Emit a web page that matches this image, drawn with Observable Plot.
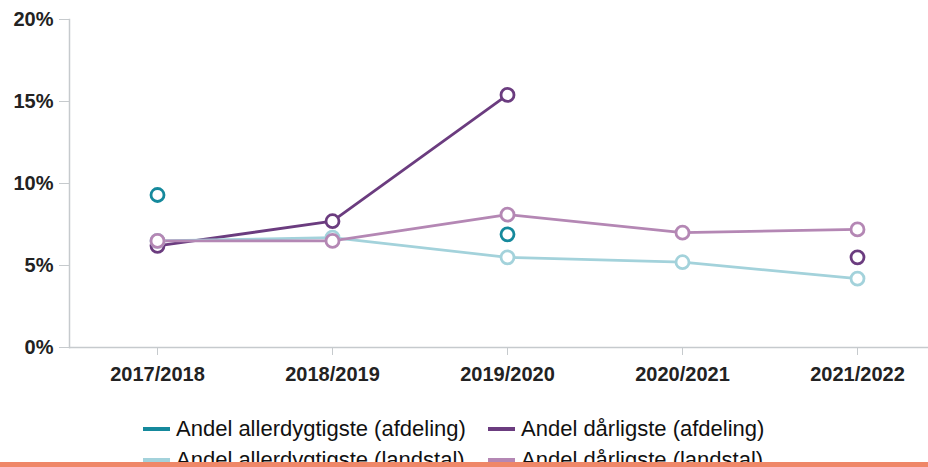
<!DOCTYPE html>
<html>
<head>
<meta charset="utf-8">
<script src="https://cdn.jsdelivr.net/npm/d3@7"></script>
<script src="https://cdn.jsdelivr.net/npm/@observablehq/plot@0.6"></script>
<style>
  html, body { margin: 0; padding: 0; background: #fff; }
  body { width: 928px; height: 467px; overflow: hidden; position: relative;
         font-family: "Liberation Sans", Arial, sans-serif; }
  #chart svg { display: block; }
  #legend { display: grid; grid-template-columns: 345px 345px; margin-left: 143px; margin-top: 13px; }
  .item { display: flex; align-items: center; font-size: 22px; line-height: 31px; color: #111; white-space: nowrap; }
  .sw { width: 27px; height: 4px; margin-right: 6px; flex: none; }
  #bar { position: absolute; left: 0; right: 0; bottom: 0; height: 5px; background: #ef8768; }
</style>
</head>
<body>
<div id="chart"></div>
<div id="legend"></div>
<div id="bar"></div>
<script>
// Data
const seasons = ["2017/2018", "2018/2019", "2019/2020", "2020/2021", "2021/2022"];
const seriesNames = [
  "Andel allerdygtigste (afdeling)",
  "Andel dårligste (afdeling)",
  "Andel allerdygtigste (landstal)",
  "Andel dårligste (landstal)"
];
const allerdygtigsteAfdeling = [9.3, null, 6.9, null, null];
const daarligsteAfdeling     = [6.2, 7.7, 15.4, null, 5.5];
const allerdygtigsteLandstal = [6.5, 6.7, 5.5, 5.2, 4.2];
const daarligsteLandstal     = [6.5, 6.5, 8.1, 7.0, 7.2];
const yTicks = [0, 5, 10, 15, 20];
const seriesColors = ["#15899c", "#6b3c7f", "#a3d2db", "#b487b4"];

const seriesValues = [allerdygtigsteAfdeling, daarligsteAfdeling, allerdygtigsteLandstal, daarligsteLandstal];
const rows = [];
seriesNames.forEach((name, i) => {
  seasons.forEach((s, j) => rows.push({ season: s, series: name, value: seriesValues[i][j] }));
});

const grey = "#c6cacd";
const chart = Plot.plot({
  width: 928,
  height: 400,
  marginLeft: 69,
  marginRight: 0,
  marginTop: 19,
  marginBottom: 53,
  style: { fontFamily: "'Liberation Sans', Arial, sans-serif", background: "#fff", overflow: "visible" },
  x: { type: "point", domain: seasons, range: [157, 857], padding: 0, label: null },
  y: { domain: [0, 20], label: null },
  color: { domain: seriesNames, range: seriesColors },
  marks: [
    Plot.ruleY([0], { stroke: grey, strokeWidth: 1.5 }),
    Plot.frame({ anchor: "left", stroke: grey, strokeWidth: 1.5 }),
    Plot.axisY({ ticks: yTicks, tickSize: 10, tickPadding: 6, tickFormat: d => d + "%", label: null,
                 stroke: grey, fill: "#222", fontSize: 20, fontWeight: "bold" }),
    Plot.axisX({ tickSize: 8, tickPadding: 11, stroke: grey, fill: "#222", label: null,
                 fontSize: 20, fontWeight: "bold" }),
    Plot.line(rows, { x: "season", y: "value", z: "series", stroke: "series", strokeWidth: 2.8 }),
    Plot.dot(rows, { x: "season", y: "value", stroke: "series", fill: "#fff", r: 6.5, strokeWidth: 2.8 })
  ]
});
document.getElementById("chart").append(chart);

const legend = document.getElementById("legend");
seriesNames.forEach((name, i) => {
  const it = document.createElement("div");
  it.className = "item";
  const sw = document.createElement("span");
  sw.className = "sw";
  sw.style.background = seriesColors[i];
  const t = document.createElement("span");
  t.textContent = name;
  it.append(sw, t);
  legend.append(it);
});
</script>
</body>
</html>
